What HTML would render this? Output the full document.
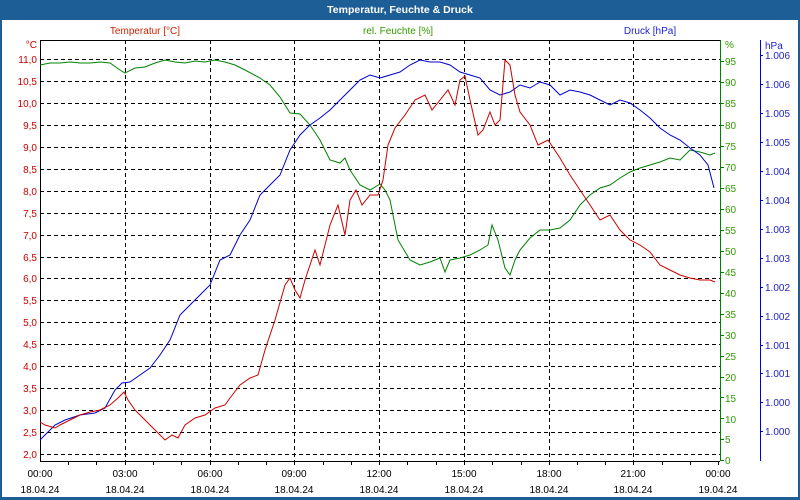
<!DOCTYPE html>
<html><head><meta charset="utf-8"><style>
html,body{margin:0;padding:0;width:800px;height:500px;overflow:hidden;background:#fff;font-family:"Liberation Sans",sans-serif}
svg{display:block}
</style></head><body>
<svg width="800" height="500" xmlns="http://www.w3.org/2000/svg" font-family="Liberation Sans, sans-serif" font-size="10">
<rect x="0" y="0" width="800" height="500" fill="#1e5e96"/>
<rect x="2" y="20" width="796" height="477" fill="#fff"/>
<text x="400" y="13" fill="#fff" font-weight="bold" text-anchor="middle" font-size="10.5">Temperatur, Feuchte &amp; Druck</text>
<text x="145" y="34" fill="#cc2200" text-anchor="middle">Temperatur [°C]</text>
<text x="398" y="34" fill="#339900" text-anchor="middle">rel. Feuchte [%]</text>
<text x="650" y="34" fill="#2222cc" text-anchor="middle">Druck [hPa]</text>
<g stroke="#000" stroke-dasharray="4,3" stroke-width="1" fill="none">
<path d="M40 59.5H720M40 81.5H720M40 103.5H720M40 125.5H720M40 147.5H720M40 169.5H720M40 191.5H720M40 213.5H720M40 235.5H720M40 257.5H720M40 278.5H720M40 300.5H720M40 322.5H720M40 344.5H720M40 366.5H720M40 388.5H720M40 410.5H720M40 432.5H720M40 454.5H720"/>
<path d="M125.5 40V461M210.5 40V461M294.5 40V461M379.5 40V461M464.5 40V461M549.5 40V461M633.5 40V461"/>
</g>
<g stroke="#000" fill="none">
<path d="M40.5 40V461.5H720M40 40.5H720"/>
<path d="M68.5 461v4M96.5 461v4M125.5 461v4M153.5 461v4M181.5 461v4M210.5 461v4M238.5 461v4M266.5 461v4M294.5 461v4M323.5 461v4M351.5 461v4M379.5 461v4M407.5 461v4M436.5 461v4M464.5 461v4M492.5 461v4M521.5 461v4M549.5 461v4M577.5 461v4M605.5 461v4M633.5 461v4M662.5 461v4M690.5 461v4M718.5 461v4"/>
</g>
<path d="M720.5 40V461" stroke="#008000"/>
<path d="M760.5 40V461" stroke="#0000cc"/>
<g fill="#cc0000" text-anchor="end">
<text x="37" y="48">°C</text>
<text x="37" y="63">11,0</text><text x="37" y="85">10,5</text><text x="37" y="107">10,0</text><text x="37" y="129">9,5</text><text x="37" y="151">9,0</text><text x="37" y="173">8,5</text><text x="37" y="195">8,0</text><text x="37" y="217">7,5</text><text x="37" y="239">7,0</text><text x="37" y="261">6,5</text><text x="37" y="282">6,0</text><text x="37" y="304">5,5</text><text x="37" y="326">5,0</text><text x="37" y="348">4,5</text><text x="37" y="370">4,0</text><text x="37" y="392">3,5</text><text x="37" y="414">3,0</text><text x="37" y="436">2,5</text><text x="37" y="458">2,0</text>
</g>
<g fill="#339900">
<text x="725" y="48">%</text>
<text x="725" y="65">95</text><text x="725" y="86">90</text><text x="725" y="107">85</text><text x="725" y="129">80</text><text x="725" y="150">75</text><text x="725" y="171">70</text><text x="725" y="192">65</text><text x="725" y="213">60</text><text x="725" y="234">55</text><text x="725" y="255">50</text><text x="725" y="276">45</text><text x="725" y="297">40</text><text x="725" y="318">35</text><text x="725" y="339">30</text><text x="725" y="360">25</text><text x="725" y="381">20</text><text x="725" y="402">15</text><text x="725" y="423">10</text><text x="725" y="443">5</text><text x="725" y="464">0</text>
</g>
<g stroke="#008000"><path d="M720 61.5h4M720 82.5h4M720 103.5h4M720 125.5h4M720 146.5h4M720 167.5h4M720 188.5h4M720 209.5h4M720 230.5h4M720 251.5h4M720 272.5h4M720 293.5h4M720 314.5h4M720 335.5h4M720 356.5h4M720 377.5h4M720 397.5h4M720 418.5h4M720 439.5h4M720 460.5h4"/></g>
<g fill="#2222cc">
<text x="765" y="49">hPa</text>
<text x="765" y="59">1.006</text><text x="765" y="88">1.006</text><text x="765" y="117">1.005</text><text x="765" y="146">1.005</text><text x="765" y="175">1.004</text><text x="765" y="204">1.004</text><text x="765" y="233">1.003</text><text x="765" y="262">1.003</text><text x="765" y="291">1.002</text><text x="765" y="320">1.002</text><text x="765" y="349">1.001</text><text x="765" y="377">1.001</text><text x="765" y="406">1.000</text><text x="765" y="435">1.000</text>
</g>
<g stroke="#0000cc"><path d="M760 55.5h3M760 84.5h3M760 113.5h3M760 142.5h3M760 171.5h3M760 200.5h3M760 229.5h3M760 258.5h3M760 287.5h3M760 316.5h3M760 345.5h3M760 373.5h3M760 402.5h3M760 431.5h3"/></g>
<g fill="#000" text-anchor="middle">
<text x="40" y="477">00:00</text><text x="40" y="493">18.04.24</text>
<text x="125" y="477">03:00</text><text x="125" y="493">18.04.24</text>
<text x="210" y="477">06:00</text><text x="210" y="493">18.04.24</text>
<text x="294" y="477">09:00</text><text x="294" y="493">18.04.24</text>
<text x="379" y="477">12:00</text><text x="379" y="493">18.04.24</text>
<text x="464" y="477">15:00</text><text x="464" y="493">18.04.24</text>
<text x="549" y="477">18:00</text><text x="549" y="493">18.04.24</text>
<text x="633" y="477">21:00</text><text x="633" y="493">18.04.24</text>
<text x="718" y="477">00:00</text><text x="718" y="493">19.04.24</text>
</g>
<g fill="none" stroke-width="1">
<polyline stroke="#008000" points="40,65 50,63 60,63 70,62 80,63 90,63 100,62 110,63 120,70 125,73 135,68 145,67 155,63 165,60 175,62 185,63 195,61 205,62 215,60 225,62 235,65 245,70 260,78 270,85 280,97 290,113 300,114 310,125 320,140 330,160 340,163 345,158 350,170 360,185 370,190 380,184 385,190 390,200 398,240 410,260 420,265 430,262 440,258 445,272 450,260 460,258 470,255 480,250 488,245 492,225 498,240 505,268 510,275 515,260 520,250 530,238 540,230 550,230 560,228 570,220 580,205 590,195 600,188 610,185 620,178 630,172 640,168 650,165 660,162 670,158 680,160 690,150 700,152 710,155 715,153"/>
<polyline stroke="#0000cc" points="40,440 45,435 55,425 65,420 80,415 95,413 105,408 115,390 122,383 130,382 140,375 150,368 160,355 170,340 180,315 190,305 200,295 210,285 220,260 230,255 240,235 250,220 260,195 270,185 280,175 290,150 300,135 310,125 320,118 330,110 340,100 350,90 360,80 370,75 380,78 390,75 400,72 410,65 420,60 430,62 440,62 450,65 460,72 470,75 480,78 490,90 500,95 510,92 520,85 530,88 540,82 550,85 560,95 570,90 580,92 590,95 600,100 610,105 620,100 630,103 640,110 650,118 660,128 670,135 680,140 690,148 700,155 708,165 714,188"/>
<polyline stroke="#cc0000" points="40,422 45,425 55,428 60,425 70,420 80,415 90,412 100,410 110,405 118,398 124,392 128,400 135,410 145,420 155,430 165,440 172,435 178,438 185,425 195,418 205,415 215,408 225,405 230,398 240,385 250,378 258,375 265,350 275,320 285,285 290,278 295,290 300,298 305,280 315,250 320,265 325,245 330,225 338,205 345,235 350,200 356,190 362,205 370,195 378,195 383,180 388,145 395,128 405,115 415,100 425,95 432,110 440,100 448,90 455,105 460,80 465,76 470,100 478,135 483,130 490,112 495,125 500,120 505,60 510,65 515,95 520,112 530,125 538,145 548,140 560,158 570,175 580,190 590,205 600,220 610,215 620,230 630,240 640,245 650,252 660,265 670,270 680,275 690,278 700,280 710,280 715,282"/>
</g>
</svg>
</body></html>
